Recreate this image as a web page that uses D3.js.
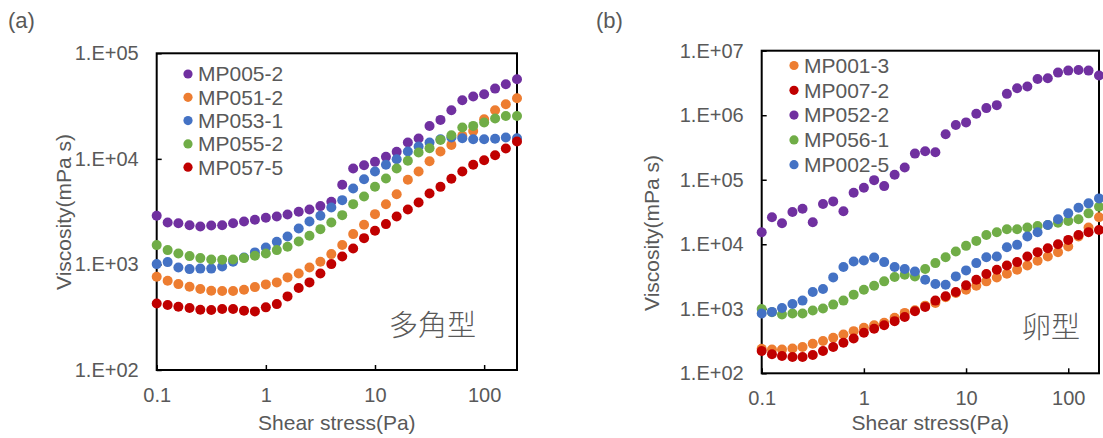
<!DOCTYPE html>
<html>
<head>
<meta charset="utf-8">
<script src="https://cdn.jsdelivr.net/npm/d3@7"></script>
<style>
  body { margin: 0; background: #fff; }
  svg text { font-family: "Liberation Sans", Arial, sans-serif; fill: #595959; }
</style>
</head>
<body>
<div id="chart"></div>
<script>
// shear stress steps (Pa), shared by both panels
const shearStress = [0.1, 0.126, 0.158, 0.2, 0.251, 0.316, 0.398, 0.501, 0.631, 0.794,
  1, 1.26, 1.58, 2, 2.51, 3.16, 3.98, 5.01, 6.31, 7.94,
  10, 12.6, 15.8, 20, 25.1, 31.6, 39.8, 50.1, 63.1, 79.4,
  100, 126, 158, 200];

// panel (a) 多角型
const namesA = ["MP005-2", "MP051-2", "MP053-1", "MP055-2", "MP057-5"];
const mp005_2 = [2890, 2500, 2460, 2350, 2290, 2340, 2350, 2460, 2550, 2650, 2770, 2850, 2970, 3150, 3320, 3570, 3920,
  5680, 8100, 8710, 9370, 10450, 11650, 14280, 15570, 20500, 23400, 28900, 35900, 38900, 40900, 46300, 50900, 56800];
const mp051_2 = [764, 700, 651, 615, 585, 564, 561, 561, 575, 610, 647, 676, 754, 822, 937, 1060, 1253,
  1525, 1937, 2373, 2994, 3720, 4630, 6330, 7590, 9500, 11730, 13560, 16500, 18400, 23700, 28900, 32900, 37500];
const mp053_1 = [1007, 1052, 937, 903, 913, 913, 957, 1060, 1164, 1300, 1449, 1640, 1842, 2193, 2555, 2890, 3462,
  4063, 5240, 6420, 7590, 8780, 9930, 11730, 13090, 14280, 15360, 15920, 15700, 15360, 15360, 15500, 15920, 15700];
const mp055_2 = [1524, 1367, 1271, 1199, 1148, 1115, 1107, 1115, 1148, 1208, 1271, 1367, 1469, 1652, 1868, 2160, 2497,
  2930, 3724, 4404, 5436, 6520, 8110, 9580, 11480, 12620, 15130, 16740, 19800, 20530, 22070, 24090, 25520, 25520];
const mp057_5 = [427, 412, 397, 386, 372, 370, 378, 378, 365, 359, 392, 421, 498, 597, 676, 822, 1007,
  1191, 1417, 1775, 2083, 2410, 2847, 3318, 3864, 4700, 5430, 6470, 7590, 8780, 9710, 10830, 12530, 14580];

// panel (b) 卵型
const namesB = ["MP001-3", "MP007-2", "MP052-2", "MP056-1", "MP002-5"];
const mp001_3 = [240, 234, 234, 243, 255, 287, 316, 355, 400, 450, 507, 557, 605, 723, 863, 948, 1119,
  1233, 1507, 1758, 1977, 2280, 2661, 3063, 3491, 4027, 4697, 5546, 6476, 7551, 9231, 13160, 18120, 26180];
const mp007_2 = [221, 197, 185, 179, 179, 192, 221, 255, 297, 347, 424, 489, 557, 643, 748, 916, 1069,
  1339, 1561, 1820, 2307, 2823, 3453, 4027, 4697, 5290, 6476, 7551, 8692, 10020, 11690, 13960, 15350, 16680];
const mp052_2 = [15350, 26170, 21140, 31620, 35600, 21930, 42000, 46200, 32400, 62900, 75100, 98600, 79700, 119200,
  154600, 254000, 276000, 266500, 505500, 704000, 774000, 1054000, 1289000, 1433000, 2143000, 2622000,
  2782000, 3652000, 3741000, 4574000, 4912000, 5032000, 4912000, 4114000];
const mp056_1 = [995, 885, 813, 843, 843, 938, 1007, 1161, 1339, 1657, 1977, 2280, 2661, 3102, 3373, 3175, 4123,
  5104, 6310, 7722, 9440, 11280, 13960, 15350, 17100, 17100, 18130, 19240, 19920, 21640, 22960, 24350, 30140, 38200];
const mp002_5 = [843, 895, 1031, 1188, 1339, 1821, 2027, 3066, 4428, 5416, 5610, 6240, 5290, 4428, 4123, 3793, 2823,
  2419, 2361, 3175, 3933, 5104, 6310, 6466, 9014, 9790, 13160, 15350, 19920, 24350, 30140, 36870, 43030, 51400];

const xTicks = [0.1, 1, 10, 100];
const xTickLabels = ["0.1", "1", "10", "100"];
const yTicksA = [1e2, 1e3, 1e4, 1e5];
const yTickLabelsA = ["1.E+02", "1.E+03", "1.E+04", "1.E+05"];
const yTicksB = [1e2, 1e3, 1e4, 1e5, 1e6, 1e7];
const yTickLabelsB = ["1.E+02", "1.E+03", "1.E+04", "1.E+05", "1.E+06", "1.E+07"];

const purple = "#7030A0", orange = "#ED7D31", blue = "#4472C4", green = "#70AD47", red = "#C00000";

const svg = d3.select("#chart").append("svg")
  .attr("width", 1103)
  .attr("height", 438);

function drawPanel(p) {
  const x = d3.scaleLog().domain([0.1, 200]).range([p.left, p.right]);
  const y = d3.scaleLog().domain(p.yDomain).range([p.bottom, p.top]);
  const g = svg.append("g");

  // axes (ticks point into the plot)
  const xa = g.append("g")
    .attr("transform", "translate(0," + p.bottom + ")")
    .call(d3.axisBottom(x).tickValues(xTicks).tickFormat((d, i) => xTickLabels[i])
      .tickSizeInner(-5).tickSizeOuter(0).tickPadding(18));
  const ya = g.append("g")
    .attr("transform", "translate(" + p.left + ",0)")
    .call(d3.axisLeft(y).tickValues(p.yTicks).tickFormat((d, i) => p.yTickLabels[i])
      .tickSizeInner(-5).tickSizeOuter(0).tickPadding(18));
  [xa, ya].forEach(a => {
    a.select(".domain").remove();
    a.selectAll("line").attr("stroke", "#000").attr("stroke-width", 1.5);
    a.selectAll("text").style("font-size", "20px").attr("fill", "#595959")
      .style("font-family", "'Liberation Sans', Arial, sans-serif");
  });

  // plot frame
  g.append("rect")
    .attr("x", p.left).attr("y", p.top)
    .attr("width", p.right - p.left).attr("height", p.bottom - p.top)
    .attr("fill", "none").attr("stroke", "#000").attr("stroke-width", 2);

  // points, later series on top
  p.series.forEach(s => {
    g.append("g").selectAll("circle")
      .data(s.values)
      .enter()
      .append("circle")
      .attr("cx", (d, i) => x(shearStress[i]))
      .attr("cy", d => y(d))
      .attr("r", 5)
      .attr("fill", s.color);
  });

  // legend
  const lg = g.append("g").selectAll("g")
    .data(p.series)
    .enter()
    .append("g")
    .attr("transform", (d, i) => "translate(" + p.legendX + "," + (p.legendY + i * p.legendStep) + ")");
  lg.append("circle").attr("r", 4.6).attr("fill", d => d.color);
  lg.append("text")
    .attr("x", 10).attr("dy", "0.35em")
    .style("font-size", "21px")
    .text(d => d.name);

  // axis titles
  g.append("text")
    .attr("x", (p.left + p.right) / 2).attr("y", 423).attr("dy", "0.35em")
    .attr("text-anchor", "middle").style("font-size", "21px")
    .text("Shear stress(Pa)");
  g.append("text")
    .attr("transform", "translate(" + p.titleX + "," + p.titleY + ") rotate(-90)")
    .attr("dy", "0.35em").attr("text-anchor", "middle").style("font-size", "21px")
    .text("Viscosity(mPa s)");

  // shape label
  g.append("text")
    .attr("x", p.shapeX).attr("y", p.shapeY).attr("dy", "0.35em")
    .attr("text-anchor", "end")
    .style("font-family", "'Noto Sans CJK JP', sans-serif")
    .style("font-size", "29px").style("font-weight", 300).attr("fill", "#262626")
    .text(p.shape);

  // panel letter
  g.append("text")
    .attr("x", p.letterX).attr("y", 20).attr("dy", "0.35em")
    .style("font-size", "22px").attr("fill", "#000")
    .text(p.letter);
}

drawPanel({
  left: 156.7, right: 517, top: 53.3, bottom: 370,
  yDomain: [1e2, 1e5], yTicks: yTicksA, yTickLabels: yTickLabelsA,
  series: [
    { name: namesA[0], values: mp005_2, color: purple },
    { name: namesA[1], values: mp051_2, color: orange },
    { name: namesA[2], values: mp053_1, color: blue },
    { name: namesA[3], values: mp055_2, color: green },
    { name: namesA[4], values: mp057_5, color: red }
  ],
  legendX: 188, legendY: 74, legendStep: 23.3,
  titleX: 64, titleY: 212,
  shape: "多角型", shapeX: 476, shapeY: 326,
  letter: "(a)", letterX: 8
});

drawPanel({
  left: 761.7, right: 1099, top: 50.7, bottom: 373.3,
  yDomain: [1e2, 1e7], yTicks: yTicksB, yTickLabels: yTickLabelsB,
  series: [
    { name: namesB[0], values: mp001_3, color: orange },
    { name: namesB[1], values: mp007_2, color: red },
    { name: namesB[2], values: mp052_2, color: purple },
    { name: namesB[3], values: mp056_1, color: green },
    { name: namesB[4], values: mp002_5, color: blue }
  ],
  legendX: 794, legendY: 65.5, legendStep: 24.8,
  titleX: 652, titleY: 233,
  shape: "卵型", shapeX: 1080, shapeY: 328,
  letter: "(b)", letterX: 596
});
</script>
</body>
</html>
